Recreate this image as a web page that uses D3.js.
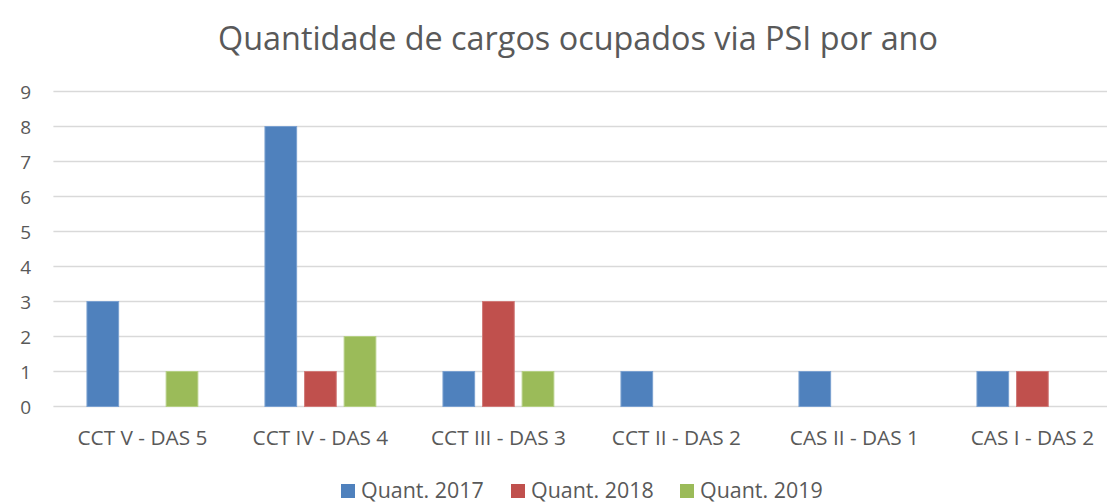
<!DOCTYPE html>
<html><head><meta charset="utf-8">
<script src="https://cdn.jsdelivr.net/npm/d3@7"></script>
<style>html,body{margin:0;padding:0;background:#fff;overflow:hidden}</style>
</head><body>
<svg id="chart" width="1107" height="504"></svg>
<script>
const categories = ["CCT V - DAS 5","CCT IV - DAS 4","CCT III - DAS 3","CCT II - DAS 2","CAS II - DAS 1","CAS I - DAS 2"];
const seriesNames = ["Quant. 2017","Quant. 2018","Quant. 2019"];
const q2017 = [3,8,1,1,1,1];
const q2018 = [0,1,3,0,0,1];
const q2019 = [1,2,1,0,0,0];
const yTicks = [0,1,2,3,4,5,6,7,8,9];
const titleText = "Quantidade de cargos ocupados via PSI por ano";
const colors = ["#4F81BD","#C0504D","#9BBB59"];
const strokes = ["#7aa0d0","#d07a78","#b5cf84"];

const seriesValues = [q2017,q2018,q2019];
const FONT = "'Open Sans', sans-serif";
const TXT = "#595959";
const svg = d3.select("#chart");

const x0 = d3.scaleBand().domain(categories).range([53.4, 1121.4]).padding(0);
const x1 = d3.scaleBand().domain(seriesNames).range([-59.4, 59.4]).paddingInner(0.2).paddingOuter(0.1);
const y = d3.scaleLinear().domain([0,9]).range([406.5, 91.5]);

function fit(sel, targetW, baseSize){
  sel.attr("font-size", baseSize);
  const w = sel.node().getComputedTextLength();
  sel.attr("font-size", baseSize * targetW / w);
  return baseSize * targetW / w;
}

// gridlines
svg.append("g").selectAll("line").data(yTicks).join("line")
  .attr("x1", 53.4).attr("x2", 1121.4)
  .attr("y1", d => y(d)).attr("y2", d => y(d))
  .attr("stroke", "#d9d9d9").attr("stroke-width", 1.3);

// y axis labels
const yAxis = d3.axisLeft(y).tickValues(yTicks).tickSize(0).tickPadding(0);
const yg = svg.append("g").attr("transform","translate(31,0)").call(yAxis);
yg.select(".domain").remove();
yg.attr("font-size", 19).attr("font-family", FONT);
yg.selectAll("text").attr("font-family", FONT).attr("font-size", 19).attr("fill", TXT).attr("dy","0.36em");

// bars
const groups = svg.append("g").selectAll("g").data(categories).join("g")
  .attr("transform", d => `translate(${x0(d) + x0.bandwidth()/2},0)`);
groups.selectAll("rect").data((c,i) => seriesNames.map((s,j) => ({s, j, v: seriesValues[j][i]})).filter(d => d.v > 0))
  .join("rect")
  .attr("x", d => x1(d.s)).attr("width", x1.bandwidth())
  .attr("y", d => y(d.v)).attr("height", d => y(0) - y(d.v))
  .attr("fill", d => colors[d.j]).attr("stroke", d => strokes[d.j]).attr("stroke-width", 1);

// x axis labels
const xAxis = d3.axisBottom(x0).tickSize(0).tickPadding(0);
const xg = svg.append("g").attr("transform","translate(0,445)").call(xAxis);
xg.select(".domain").remove();
xg.selectAll("text").attr("font-family", FONT).attr("fill", TXT).attr("dy", 0);
const firstLab = xg.select("text");
const catSize = fit(firstLab, 130, 17);
xg.selectAll("text").attr("font-size", catSize);

// title
const t = svg.append("text").attr("x", 578).attr("y", 50).attr("text-anchor","middle")
  .attr("font-family", FONT).attr("fill", TXT).text(titleText);
fit(t, 720, 28);

// legend
const legX = [341, 511, 680];
const leg = svg.append("g").selectAll("g").data(seriesNames).join("g")
  .attr("transform", (d,i) => `translate(${legX[i]},0)`);
leg.append("rect").attr("x",0).attr("y",484).attr("width",14).attr("height",14).attr("fill",(d,i)=>colors[i]);
leg.append("text").attr("x",20).attr("y",498).attr("font-family",FONT).attr("fill",TXT)
  .attr("font-size", catSize * 1.03).text(d=>d);
</script>
</body></html>
